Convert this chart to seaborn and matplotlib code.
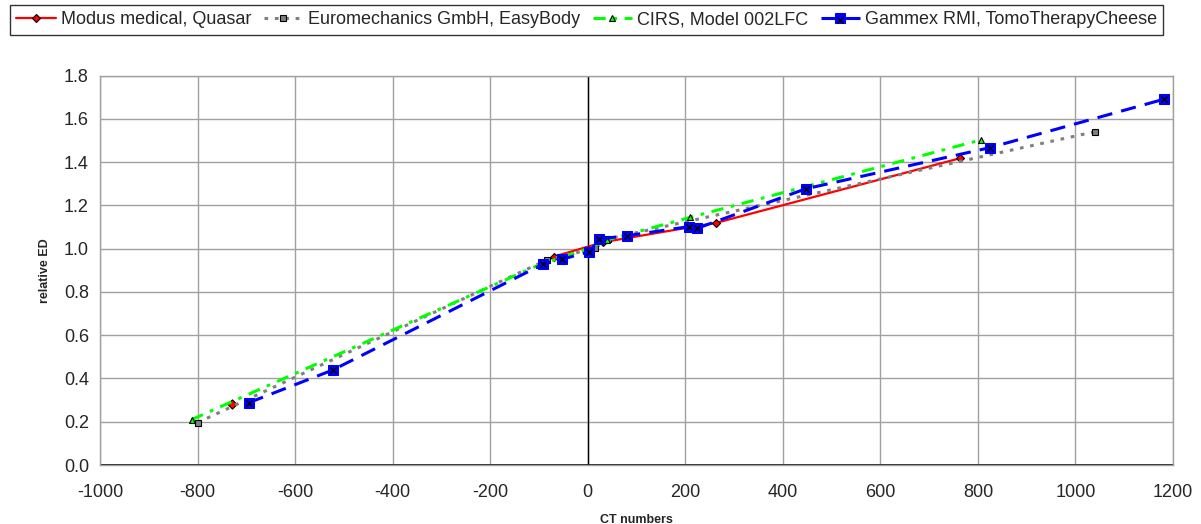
import matplotlib
matplotlib.use("Agg")
import matplotlib.pyplot as plt
import numpy as np
import seaborn as sns

# CT number -> relative electron density, per phantom
modus_ct = [-729, -70, 31, 264, 763]
modus_ed = [0.282, 0.963, 1.030, 1.120, 1.418]

euro_ct = [-800, -84, 14, 41, 1040]
euro_ed = [0.196, 0.948, 1.002, 1.045, 1.541]

cirs_ct = [-812, -100, 0, 40, 210, 806]
cirs_ed = [0.210, 0.925, 1.000, 1.040, 1.145, 1.503]

gammex_ct = [-695, -523, -92, -53, 3, 24, 80, 207, 224, 447, 824, 1181]
gammex_ed = [0.288, 0.439, 0.928, 0.951, 0.986, 1.045, 1.060, 1.102, 1.094, 1.277, 1.467, 1.691]

labels = ["Modus medical, Quasar", "Euromechanics GmbH, EasyBody",
          "CIRS, Model 002LFC", "Gammex RMI, TomoTherapyCheese"]
x_ticks = list(range(-1000, 1201, 200))
y_ticks = [0.0, 0.2, 0.4, 0.6, 0.8, 1.0, 1.2, 1.4, 1.6, 1.8]

sns.set_style("white")
plt.rcParams['font.family'] = ['Liberation Sans', 'DejaVu Sans']
plt.rcParams['axes.unicode_minus'] = False

fig = plt.figure(figsize=(12.01, 5.24), dpi=100)
ax = fig.add_axes([100 / 1201, 1 - 465 / 524, 1073 / 1201, (465 - 75.7) / 524])

# Modus: first point stands alone (no line to it)
sns.scatterplot(x=modus_ct[:1], y=modus_ed[:1], ax=ax, marker="D", s=22,
                color="red", edgecolor="black", linewidth=0.8, zorder=3)
sns.lineplot(x=modus_ct[1:], y=modus_ed[1:], ax=ax, sort=False, color="red",
             linewidth=1.6, marker="D", markersize=4.5, markerfacecolor="red",
             markeredgecolor="black", markeredgewidth=0.8, zorder=3)
sns.lineplot(x=euro_ct, y=euro_ed, ax=ax, sort=False, color="#808080",
             linewidth=2.2, linestyle=(0, (1.2, 2.2)), marker="s", markersize=5,
             markerfacecolor="#808080", markeredgecolor="black",
             markeredgewidth=0.8, zorder=4)
sns.lineplot(x=cirs_ct, y=cirs_ed, ax=ax, sort=False, color="#00ff00",
             linewidth=2.2, linestyle=(0, (4, 2.5, 1.2, 2.5)), marker="^",
             markersize=5, markerfacecolor="#00ff00", markeredgecolor="black",
             markeredgewidth=0.8, zorder=5)
sns.lineplot(x=gammex_ct, y=gammex_ed, ax=ax, sort=False, color="#0000ff",
             linewidth=2.2, linestyle=(0, (5, 3)), marker="s", markersize=7.5,
             markerfacecolor="#0000ff", markeredgecolor="#0000ff", zorder=6)
sns.scatterplot(x=gammex_ct, y=gammex_ed, ax=ax, marker="x", s=20,
                color="black", linewidth=1.0, zorder=7)

ax.set_xlim(-1000, 1200)
ax.set_ylim(0, 1.8)
ax.set_xticks(x_ticks)
ax.set_yticks(y_ticks)
ax.set_yticklabels([f"{v:.1f}" for v in y_ticks])
ax.grid(True, color="#a0a0a0", linewidth=1)
ax.axvline(0, color="black", linewidth=1, zorder=2)
ax.axhline(0, color="black", linewidth=1.2, zorder=2)
for s in ax.spines.values():
    s.set_color("#a0a0a0")
    s.set_linewidth(1)
ax.tick_params(length=0, labelsize=13)
ax.tick_params(axis="x", pad=14)
ax.tick_params(axis="y", pad=8)
ax.set_xlabel("CT numbers", fontsize=9, fontweight="bold", labelpad=9)
ax.set_ylabel("relative ED", fontsize=9, fontweight="bold", labelpad=9)

lines = ax.get_lines()
h_modus = lines[0]
h_euro = lines[1]
h_cirs = lines[2]
h_gam = lines[3]
h_x = ax.collections[-1]
leg = fig.legend([h_modus, h_euro, h_cirs, (h_gam, h_x)], labels, ncol=4,
                 loc="upper left", bbox_to_anchor=(10 / 1201, 1 - 5 / 524),
                 fontsize=13, frameon=True, fancybox=False, edgecolor="black",
                 borderpad=0.35, handlelength=2.2, handletextpad=0.25,
                 columnspacing=0.7, borderaxespad=0)
leg.get_frame().set_linewidth(1)

fig.savefig("out.png", dpi=100)
